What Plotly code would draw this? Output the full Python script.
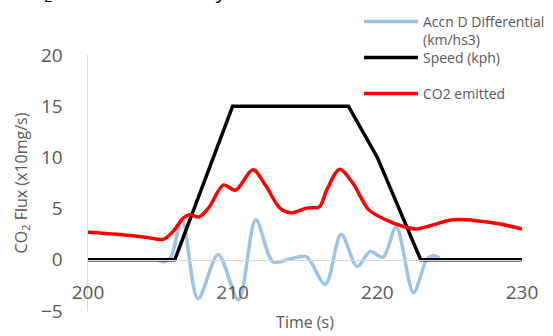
import plotly.graph_objects as go

# ---- data ----
speed_t = [200, 206, 210, 218, 220, 223, 230]
speed_v = [0, 0, 15, 15, 10, 0, 0]

accn_t = [204.3, 204.8, 205.2, 205.7, 206.5, 207.6, 209.0, 210.4, 211.6, 212.8,
          214.0, 215.1, 216.4, 217.5, 218.6, 219.5, 220.4, 221.3, 222.5, 223.4,
          223.85, 224.3]
accn_v = [0, 0, -0.2, 0.2, 3.9, -3.8, 0.5, -3.9, 3.9, -0.2,
          0.1, 0.3, -2.4, 2.5, -0.65, 0.8, 0.25, 3.2, -3.2, 0.0,
          0.4, 0.2]

co2_t = [200, 202, 204, 205.2, 205.9, 206.6, 207.05, 207.7, 208.4, 209.35,
         210.2, 211.4, 212.3, 213.3, 214.1, 215.1, 216.0, 216.5, 217.4, 218.3,
         219.4, 220.6, 221.8, 222.7, 223.6, 225.2, 227.0, 228.5, 230]
co2_v = [2.7, 2.5, 2.2, 2.0, 2.8, 4.1, 4.4, 4.2, 5.2, 7.3,
         6.8, 8.8, 7.2, 5.0, 4.6, 5.05, 5.2, 6.8, 8.85, 7.5,
         4.9, 3.9, 3.25, 3.0, 3.3, 3.9, 3.8, 3.5, 3.0]

x_ticks = [200, 210, 220, 230]
y_ticks = [-5, 0, 5, 10, 15, 20]

FONT = "Open Sans"
GREY = "#595959"

fig = go.Figure()
fig.add_trace(go.Scatter(x=accn_t, y=accn_v, mode="lines",
                         name="Accn D Differential<br>(km/hs3)",
                         line=dict(color="#9DC3E6", width=3.5, shape="spline", smoothing=0.9),
                         legend="legend"))
fig.add_trace(go.Scatter(x=speed_t, y=speed_v, mode="lines", name="Speed (kph)",
                         line=dict(color="#000000", width=3.5),
                         legend="legend2"))
fig.add_trace(go.Scatter(x=co2_t, y=co2_v, mode="lines", name="CO2 emitted",
                         line=dict(color="#FF0000", width=3.5, shape="spline", smoothing=0.9),
                         legend="legend3"))

def pxx(px):
    return (px - 88) / 434.0

def pxy(py):
    return (311 - py) / 256.0

leg_common = dict(font=dict(family=FONT, size=14, color=GREY), bgcolor="rgba(0,0,0,0)",
                  xanchor="left", yanchor="middle", itemwidth=54, valign="top",
                  visible=True)

fig.update_layout(
    width=553, height=336,
    margin=dict(l=88, r=31, t=55, b=25, autoexpand=False),
    paper_bgcolor="white", plot_bgcolor="white",
    font=dict(family=FONT, color=GREY),
    showlegend=True,
    legend=dict(x=pxx(359), y=pxy(31), **leg_common),
    legend2=dict(x=pxx(359), y=pxy(58), **leg_common),
    legend3=dict(x=pxx(359), y=pxy(94), **leg_common),
    xaxis=dict(range=[200, 230], tickvals=x_ticks, ticks="", showgrid=False, zeroline=False,
               showline=True, linecolor="#D9D9D9", linewidth=1.5, automargin=False,
               anchor="free", position=0.2, ticklabelstandoff=15,
               tickfont=dict(family=FONT, size=19, color=GREY),
               title=dict(text="Time (s)", font=dict(family=FONT, size=16, color=GREY), standoff=12)),
    yaxis=dict(range=[-5, 20], tickvals=y_ticks, ticks="", showgrid=False, zeroline=False,
               showline=True, linecolor="#D9D9D9", linewidth=1.5, ticklabelstandoff=20,
               automargin=False,
               tickfont=dict(family=FONT, size=19, color=GREY),
               title=dict(text="CO<sub>2</sub> Flux (x10mg/s)",
                          font=dict(family=FONT, size=16, color=GREY), standoff=9)),
    annotations=[dict(text="CO<sub>2</sub> Emission Intensity", xref="paper", yref="paper",
                      x=pxx(14), y=(311 - 8.5) / 256.0, xanchor="left", yanchor="bottom",
                      showarrow=False,
                      font=dict(family=FONT, size=20, color="#000000"))],
)

fig.write_html("out.html",
               config={"displayModeBar": False, "staticPlot": True},
               post_script="document.body.style.margin='0';document.body.style.overflow='hidden';")
